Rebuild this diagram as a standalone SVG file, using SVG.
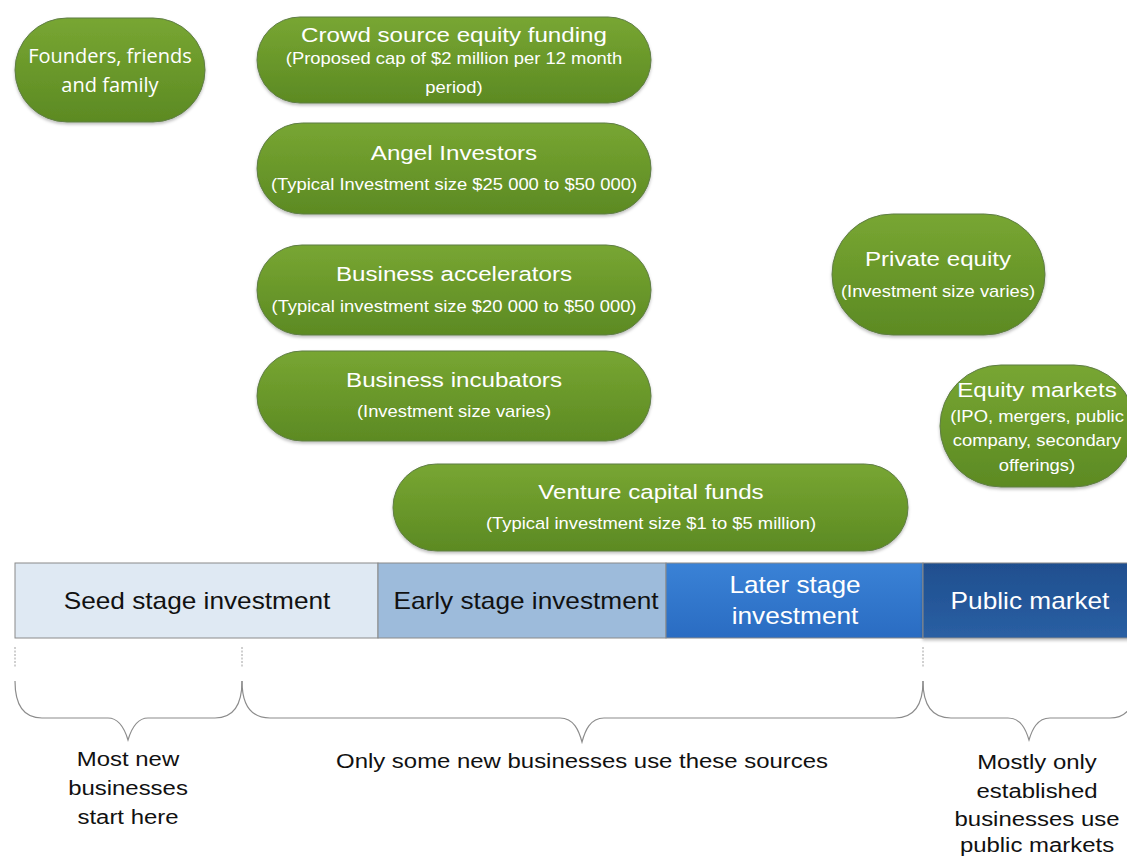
<svg xmlns="http://www.w3.org/2000/svg" width="1127" height="857" viewBox="0 0 1127 857">
<defs>
<linearGradient id="g" x1="0" y1="0" x2="0" y2="1">
<stop offset="0" stop-color="#78a632"/>
<stop offset="1" stop-color="#5c8a23"/>
</linearGradient>
<linearGradient id="later" x1="0" y1="0" x2="0" y2="1">
<stop offset="0" stop-color="#3a82d6"/>
<stop offset="1" stop-color="#2a6cc2"/>
</linearGradient>
<linearGradient id="pub" x1="0" y1="0" x2="0" y2="1">
<stop offset="0" stop-color="#1f4f8f"/>
<stop offset="1" stop-color="#2a5fa3"/>
</linearGradient>
<filter id="sh" x="-10%" y="-10%" width="120%" height="130%">
<feDropShadow dx="0" dy="2" stdDeviation="1.5" flood-color="#000" flood-opacity="0.25"/>
</filter>
</defs>
<style>
.pill{fill:url(#g);stroke:#5f7d45;stroke-width:1;filter:url(#sh)}
.t{font-family:"Liberation Sans",Arial,sans-serif;text-anchor:middle;fill:#fff}
.h{font-size:21px}
.s{font-size:16px}
.c{font-family:"Open Sans","Noto Sans",sans-serif;font-size:20px;text-anchor:middle;fill:#fff}
.bar{stroke:#8a8a8a;stroke-width:1}
.bt{font-family:"Liberation Sans",Arial,sans-serif;font-size:23px;text-anchor:middle}
.lb{font-family:"Liberation Sans",Arial,sans-serif;font-size:21px;text-anchor:middle;fill:#111}
.brace{fill:none;stroke:#8c8c8c;stroke-width:1.2}
.dash{stroke:#a0a0a0;stroke-width:1;stroke-dasharray:2 1.5}
</style>
<rect width="1127" height="857" fill="#fff"/>

<g id="founders">
<rect class="pill" x="15" y="18" width="190" height="104" rx="52"/>
<text class="c" x="110" y="63">Founders, friends</text>
<text class="c" x="110" y="92">and family</text>
</g>

<g id="crowd">
<rect class="pill" x="257" y="17" width="394" height="86" rx="43"/>
<g transform="translate(454 0) scale(1.15 1)">
<text class="t h" x="0" y="42">Crowd source equity funding</text>
<text class="t s" x="0" y="64">(Proposed cap of $2 million per 12 month</text>
<text class="t s" x="0" y="93">period)</text>
</g>
</g>

<g id="angel">
<rect class="pill" x="257" y="123" width="394" height="91" rx="45.5"/>
<g transform="translate(454 0) scale(1.15 1)">
<text class="t h" x="0" y="160">Angel Investors</text>
<text class="t s" x="0" y="190">(Typical Investment size $25 000 to $50 000)</text>
</g>
</g>

<g id="accelerators">
<rect class="pill" x="257" y="245" width="394" height="90" rx="45"/>
<g transform="translate(454 0) scale(1.15 1)">
<text class="t h" x="0" y="281">Business accelerators</text>
<text class="t s" x="0" y="312">(Typical investment size $20 000 to $50 000)</text>
</g>
</g>

<g id="incubators">
<rect class="pill" x="257" y="351" width="394" height="90" rx="45"/>
<g transform="translate(454 0) scale(1.15 1)">
<text class="t h" x="0" y="387">Business incubators</text>
<text class="t s" x="0" y="417">(Investment size varies)</text>
</g>
</g>

<g id="venture">
<rect class="pill" x="393" y="464" width="515" height="87" rx="43.5"/>
<g transform="translate(651 0) scale(1.15 1)">
<text class="t h" x="0" y="499">Venture capital funds</text>
<text class="t s" x="0" y="529">(Typical investment size $1 to $5 million)</text>
</g>
</g>

<g id="private-equity">
<rect class="pill" x="832" y="214" width="213" height="121" rx="60.5"/>
<g transform="translate(938 0) scale(1.15 1)">
<text class="t h" x="0" y="266">Private equity</text>
<text class="t s" x="0" y="297">(Investment size varies)</text>
</g>
</g>

<g id="equity-markets">
<rect class="pill" x="940" y="365" width="195" height="122" rx="61"/>
<g transform="translate(1037 0) scale(1.15 1)">
<text class="t h" x="0" y="397">Equity markets</text>
<text class="t s" x="0" y="422">(IPO, mergers, public</text>
<text class="t s" x="0" y="446">company, secondary</text>
<text class="t s" x="0" y="471">offerings)</text>
</g>
</g>

<g id="stages">
<rect class="bar" x="15" y="563" width="363" height="75" fill="#dfe9f3"/>
<rect class="bar" x="378" y="563" width="288" height="75" fill="#9dbbdb"/>
<rect class="bar" x="666" y="563" width="257" height="75" fill="url(#later)"/>
<rect x="923" y="563" width="210" height="75" fill="url(#pub)" stroke="#8a8a8a" stroke-width="1" filter="url(#sh)"/>
<g transform="translate(197 0) scale(1.14 1)"><text class="bt" x="0" y="609" fill="#111">Seed stage investment</text></g>
<g transform="translate(526 0) scale(1.14 1)"><text class="bt" x="0" y="609" fill="#111">Early stage investment</text></g>
<g transform="translate(795 0) scale(1.14 1)"><text class="bt" x="0" y="593" fill="#fff">Later stage</text><text class="bt" x="0" y="624" fill="#fff">investment</text></g>
<g transform="translate(1030 0) scale(1.14 1)"><text class="bt" x="0" y="609" fill="#fff">Public market</text></g>
</g>

<g id="connectors">
<line class="dash" x1="15" y1="647" x2="15" y2="668"/>
<line class="dash" x1="242" y1="647" x2="242" y2="668"/>
<line class="dash" x1="923" y1="647" x2="923" y2="668"/>
<path class="brace" d="M15,681 C15,705 24,718 42,718 L108,718 C120,718 125,730 128,740 C131,730 136,718 148,718 L215,718 C233,718 242,705 242,681"/>
<path class="brace" d="M242,681 C242,705 251,718 270,718 L560,718 C574,718 579,731 582,742 C585,731 590,718 604,718 L895,718 C914,718 923,705 923,681"/>
<path class="brace" d="M923,681 C923,705 932,718 951,718 L1008,718 C1021,718 1026,730 1029,740 C1032,730 1037,718 1050,718 L1110,718 C1127,718 1136,705 1138,681"/>
</g>

<g id="labels">
<g transform="translate(128 0) scale(1.14 1)">
<text class="lb" x="0" y="766">Most new</text>
<text class="lb" x="0" y="795">businesses</text>
<text class="lb" x="0" y="824">start here</text>
</g>
<g transform="translate(582 0) scale(1.14 1)">
<text class="lb" x="0" y="768">Only some new businesses use these sources</text>
</g>
<g transform="translate(1037 0) scale(1.14 1)">
<text class="lb" x="0" y="769">Mostly only</text>
<text class="lb" x="0" y="798">established</text>
<text class="lb" x="0" y="826">businesses use</text>
<text class="lb" x="0" y="852">public markets</text>
</g>
</g>
</svg>
